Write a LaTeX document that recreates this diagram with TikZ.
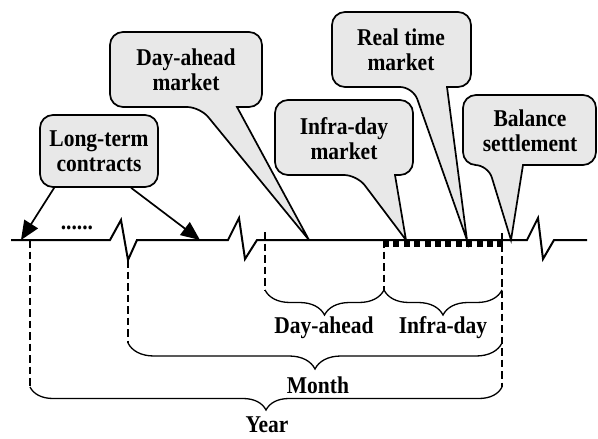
\documentclass[tikz,border=0pt]{standalone}
\usepackage{fontspec}
\setmainfont{Liberation Serif}
\usetikzlibrary{arrows.meta,decorations.pathreplacing,calc}
\definecolor{cgray}{RGB}{232,232,232}
\begin{document}
\begin{tikzpicture}[x=1pt,y=-1pt,
  lbl/.style={font=\fontsize{21.5}{22.5}\selectfont\bfseries, align=center, inner sep=0pt, yscale=1.12, transform shape},
  cbox/.style={fill=cgray, draw=black, line width=1.7pt, line join=miter},
  tl/.style={line width=2pt, line join=miter},
  vdash/.style={line width=1.2pt, dash pattern=on 7.5pt off 4pt},
  brc/.style={decorate, decoration={brace, mirror, amplitude=#1}, line width=1.3pt},
  arr/.style={line width=1.7pt, -{Triangle[length=19pt,width=16pt]}}]
\useasboundingbox (0,0) rectangle (598,439);

% timeline
\draw[tl] (11,240) -- (110,240) -- (121,220) -- (128,260) -- (137,240) -- (228,240)
  -- (239,218) -- (245,259) -- (257,240) -- (527,240) -- (538,218) -- (543,259)
  -- (554,240) -- (587,240);
\draw[line width=7pt, dash pattern=on 6pt off 4.4pt] (383,243.5) -- (504,243.5);

% named points
\coordinate (y1) at (30,387);
\coordinate (y2) at (502,387);
\coordinate (m1) at (128,343);
\coordinate (m2) at (502,343);
\coordinate (d1) at (265,290);
\coordinate (d2) at (384,290);
\coordinate (i2) at (502,290);

% dashed verticals
\draw[vdash] (30,240) -- (y1);
\draw[vdash] (128,260) -- (m1);
\draw[vdash] (265,232) -- (d1);
\draw[vdash] (384,240) -- (d2);
\draw[vdash] (502,233) -- (y2);

% braces
\draw[brc=23pt] (y1) -- (y2);
\draw[brc=26pt] (m1) -- (m2);
\draw[brc=25pt] (d1) -- (d2);
\draw[brc=25pt] (d2) -- (i2);
\node[lbl, anchor=base] (year) at (267,432) {Year};
\node[lbl] (month) at (318,385) {Month};
\node[lbl] (dah) at (324,328) {Day-ahead};
\node[lbl] (ind) at (443,328) {Infra-day};

% long-term contracts
\node[cbox, rounded corners=13pt, minimum width=118pt, minimum height=72pt] (ltc) at (99,151) {};
\node[lbl] (ltct) at (ltc) {Long-term\\contracts};
\coordinate (lt1) at (21,240);
\coordinate (lt2) at (200,240);
\draw[arr] ($(ltc.south west)+(15,0)$) -- (lt1);
\draw[arr] ($(ltc.south west)+(92,0)$) -- (lt2);
\node[lbl, anchor=base] (dots) at (77,229) {......};

% callouts
\filldraw[cbox] (309,240) -- (237,107) [rounded corners=13pt] -- (262,107) -- (262,32)
  -- (110,32) -- (110,107) -- (200,107) [sharp corners] -- cycle;
\node[lbl] (dam) at (186,70) {Day-ahead\\market};

\filldraw[cbox] (406,240) -- (395,175) [rounded corners=13pt] -- (413,175) -- (413,100)
  -- (275,100) -- (275,175) -- (357,175) [sharp corners] -- cycle;
\node[lbl] (idm) at (344,139) {Infra-day\\market};

\filldraw[cbox] (467,240) -- (447,87) [rounded corners=13pt] -- (471,87) -- (471,12)
  -- (332,12) -- (332,87) -- (413,87) [sharp corners] -- cycle;
\node[lbl] (rtm) at (401,50) {Real time\\market};

\filldraw[cbox] (511,240) -- (523,165) [rounded corners=13pt] -- (596,165) -- (596,95)
  -- (463,95) -- (463,165) -- (488,165) [sharp corners] -- cycle;
\node[lbl] (bs) at (530,131) {Balance\\settlement};
\end{tikzpicture}
\end{document}
